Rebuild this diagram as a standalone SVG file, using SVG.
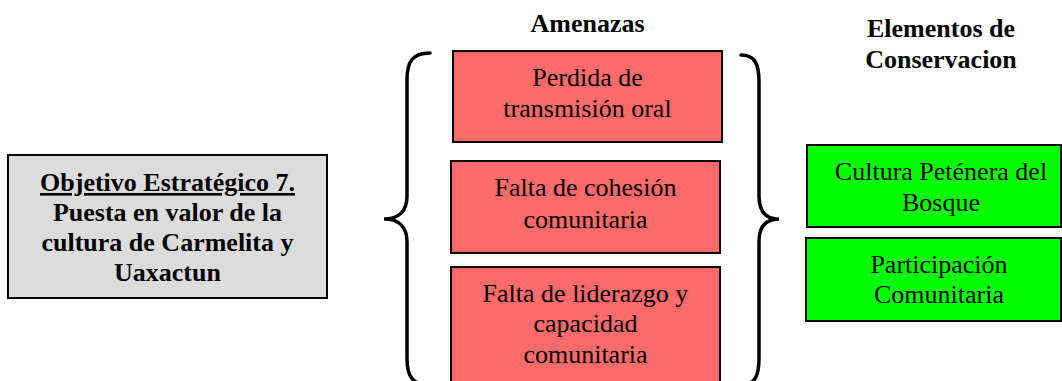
<svg xmlns="http://www.w3.org/2000/svg" width="1062" height="381" viewBox="0 0 1062 381">
<style>
  .box { stroke: #000; stroke-width: 2; }
  .gray { fill: #dcdcdc; }
  .red { fill: #ff6b6b; }
  .green { fill: #00ff00; }
  text { font-family: "Liberation Serif", "Times New Roman", serif; font-size: 26px; fill: #000; text-anchor: middle; }
  .b { font-weight: bold; }
  .brace { fill: none; stroke: #000; stroke-width: 3.5; stroke-linecap: round; }
</style>
<rect width="1062" height="381" fill="#fff"/>
<g id="titles">
  <text class="b" x="587.5" y="32">Amenazas</text>
  <text class="b" x="941" y="37">Elementos de</text>
  <text class="b" x="941" y="68">Conservacion</text>
</g>
<g id="objetivo">
  <rect class="box gray" x="8" y="155" width="319" height="143"/>
  <text class="b" x="167.5" y="191" text-decoration="underline">Objetivo Estratégico 7.</text>
  <text class="b" x="167.5" y="221">Puesta en valor de la</text>
  <text class="b" x="167.5" y="251">cultura de Carmelita y</text>
  <text class="b" x="167.5" y="281">Uaxactun</text>
</g>
<g id="amenaza1">
  <rect class="box red" x="453" y="51" width="269" height="91"/>
  <text x="587.5" y="86">Perdida de</text>
  <text x="587.5" y="117">transmisión oral</text>
</g>
<g id="amenaza2">
  <rect class="box red" x="451" y="161" width="269" height="92"/>
  <text x="585.5" y="196">Falta de cohesión</text>
  <text x="585.5" y="228">comunitaria</text>
</g>
<g id="amenaza3">
  <rect class="box red" x="451" y="267" width="269" height="130"/>
  <text x="585.5" y="302">Falta de liderazgo y</text>
  <text x="585.5" y="332">capacidad</text>
  <text x="585.5" y="363">comunitaria</text>
</g>
<g id="elemento1">
  <rect class="box green" x="807" y="145" width="254" height="82"/>
  <text x="941" y="180">Cultura Peténera del</text>
  <text x="941" y="211">Bosque</text>
</g>
<g id="elemento2">
  <rect class="box green" x="806" y="238" width="255" height="83"/>
  <text x="939" y="273">Participación</text>
  <text x="939" y="303">Comunitaria</text>
</g>
<g id="connectors">
  <path class="brace" d="M430,53 C412,53 407,62 407,80 L407,196 C407,211 399,219 384,219 C399,219 407,227 407,242 L407,358 C407,376 412,385 430,385"/>
  <path class="brace" d="M741,55 C755,55 759,64 759,82 L759,196 C759,211 765,219 779,219 C765,219 759,227 759,242 L759,358 C759,376 755,385 741,385"/>
</g>
</svg>
